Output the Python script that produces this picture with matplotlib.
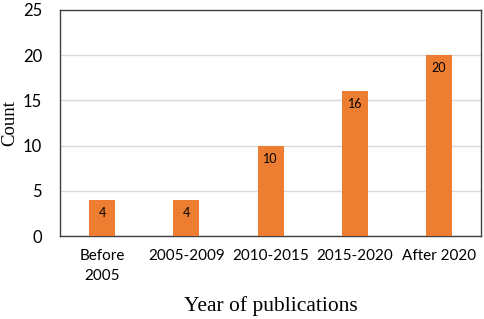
import numpy as np
import matplotlib.pyplot as plt

categories = ['Before\n2005', '2005-2009', '2010-2015', '2015-2020', 'After 2020']
counts = [4, 4, 10, 16, 20]

fig = plt.figure(figsize=(4.84, 3.19), dpi=100)
ax = fig.add_axes([0.124, 0.26, 0.870, 0.709])

x = np.arange(len(categories))
bars = ax.bar(x, counts, width=0.31, color='#ED7D31', zorder=3)

for b, v in zip(bars, counts):
    ax.text(b.get_x() + b.get_width() / 2, v - 1.45, str(v), ha='center', va='center',
            fontsize=9, family='Lato', color='black', zorder=4)

ax.set_xlim(-0.5, len(categories) - 0.5)
ax.set_ylim(0, 25)
ax.set_yticks([0, 5, 10, 15, 20, 25])
ax.set_xticks(x)
ax.set_xticklabels(categories, family='Lato', fontsize=11, linespacing=1.6)
for lbl in ax.get_yticklabels():
    lbl.set_family('Lato')
    lbl.set_fontsize(12)
ax.tick_params(axis='x', length=0, pad=9)
ax.tick_params(axis='y', length=0, pad=13)

ax.grid(axis='y', color='#d9d9d9', linewidth=1, zorder=0)
for s in ax.spines.values():
    s.set_color('#404040')
    s.set_linewidth(1)

ax.set_xlabel('Year of publications', family='Liberation Serif', fontsize=15.5, labelpad=9)
fig.text(10 / 484, 0.614, 'Count', rotation=90, ha='center', va='center',
         family='Liberation Serif', fontsize=13.5)

fig.savefig('out.png', dpi=100)
